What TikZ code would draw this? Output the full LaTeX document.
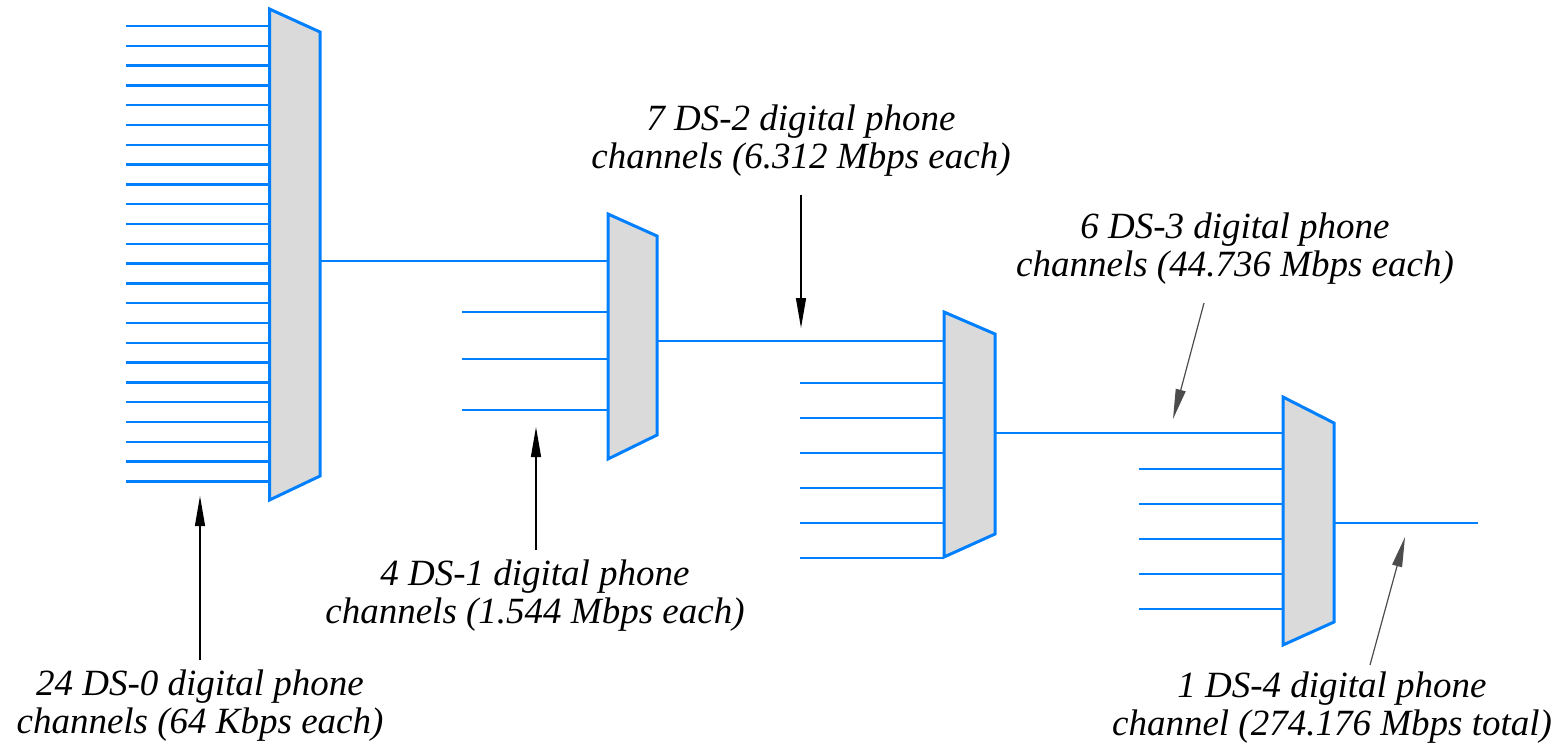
\documentclass[tikz,border=0pt]{standalone}
\usepackage{fontspec}
\setmainfont{Liberation Serif}
\usetikzlibrary{arrows.meta, calc}
\definecolor{linkblue}{RGB}{0,128,255}
\definecolor{muxgray}{RGB}{218,218,218}
\tikzset{
	ptr/.tip={Triangle[length=15pt, width=5pt]},
	link/.style={linkblue, line width=1.2pt},
	mux/.style={draw=linkblue, fill=muxgray, line width=1.5pt, line join=miter},
	pointer/.style={black, line width=0.6pt, -ptr},
	caption/.style={font=\itshape\fontsize{18.5}{19}\selectfont, align=center, inner sep=0pt},
}

\begin{document}
\begin{tikzpicture}[x=0.5pt, y=-0.5pt]
	% pixel grid of the page
	\useasboundingbox (0,0) rectangle (1564,752);
	
	% Input channels
	\foreach \i in {0,...,23}
		\draw[link] (126,{26+\i*19.8}) -- (269.5,{26+\i*19.8});
	\foreach \y in {312,359,410}
		\draw[link] (462,\y) -- (608,\y);
	\foreach \i in {0,...,5}
		\draw[link] (800,{383+\i*35}) -- (944,{383+\i*35});
	\foreach \i in {0,...,4}
		\draw[link] (1139,{469+\i*35}) -- (1283,{469+\i*35});
	
	% Links between the stages
	\draw[link] (320,261) -- (608,261);
	\draw[link] (657,341) -- (944,341);
	\draw[link] (995,433) -- (1283,433);
	\draw[link] (1334,523) -- (1478,523);
	
	% Multiplexers
	\draw[mux] (269.5,9) -- (320,32) -- (320,476) -- (269.5,500) -- cycle;
	\draw[mux] (608,214) -- (657,236) -- (657,435) -- (608,459) -- cycle;
	\draw[mux] (944,312) -- (995,334) -- (995,534) -- (944,557) -- cycle;
	\draw[mux] (1283,397) -- (1334,423) -- (1334,622) -- (1283,645) -- cycle;
	
	% Labels
	\node[caption] (ds0) at (200,706) {24 DS-0 digital phone\\channels (64 Kbps each)};
	\node[caption] (ds1) at (535,596) {4 DS-1 digital phone\\channels (1.544 Mbps each)};
	\node[caption] (ds2) at (801,141) {7 DS-2 digital phone\\channels (6.312 Mbps each)};
	\node[caption] (ds3) at (1235,249) {6 DS-3 digital phone\\channels (44.736 Mbps each)};
	\node[caption] (ds4) at (1332,708) {1 DS-4 digital phone\\channel (274.176 Mbps total)};
	
	% Pointers
	\coordinate (ds0tail) at (200,660);  \coordinate (ds0tip) at (200,496);
	\coordinate (ds1tail) at (536,550);  \coordinate (ds1tip) at (536,427);
	\coordinate (ds2tail) at (801,195);  \coordinate (ds2tip) at (801,328);
	\coordinate (ds3tail) at (1204,303); \coordinate (ds3tip) at (1173,419);
	\coordinate (ds4tail) at (1370,665); \coordinate (ds4tip) at (1405,537);
	\draw[pointer] (ds0tail) -- (ds0tip);
	\draw[pointer] (ds1tail) -- (ds1tip);
	\draw[pointer] (ds2tail) -- (ds2tip);
	\draw[pointer, black!70] (ds3tail) -- (ds3tip);
	\draw[pointer, black!70] (ds4tail) -- (ds4tip);
\end{tikzpicture}
\end{document}
